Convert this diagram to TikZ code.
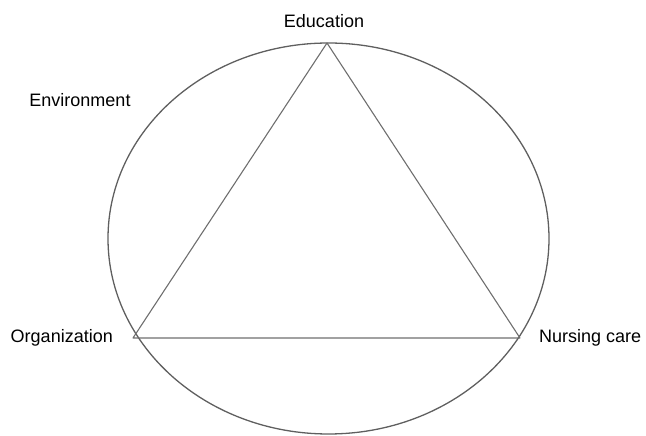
\documentclass[tikz,border=0pt]{standalone}
\usepackage{fontspec}
\setmainfont{Liberation Sans}
\begin{document}
\begin{tikzpicture}[x=1pt,y=1pt,
  lbl/.style={inner sep=0pt,font=\fontsize{18}{21}\selectfont},
  outline/.style={draw={rgb,255:red,95;green,95;blue,95},line width=1.3pt},
  edge/.style={draw={rgb,255:red,110;green,110;blue,110},line width=1.1pt}]
\useasboundingbox (0,0) rectangle (646,436);
\node[draw=none,fill=none,inner sep=0pt] (env) at (328.5,197.5) {};
\draw[outline] (env) ellipse [x radius=220.5, y radius=195.5];
\coordinate (top) at (327,393);
\coordinate (left) at (133,98);
\coordinate (right) at (520,98);
\draw[edge,line join=round] (top) -- (left) -- (right) -- cycle;
\node[lbl] (edu) at (324,415) {Education};
\node[lbl] (envlbl) at (80,336) {Environment};
\node[lbl,anchor=east] (org) at (113,98) {Organization};
\node[lbl,anchor=west] (nc) at (539,98) {Nursing care};
\end{tikzpicture}
\end{document}
